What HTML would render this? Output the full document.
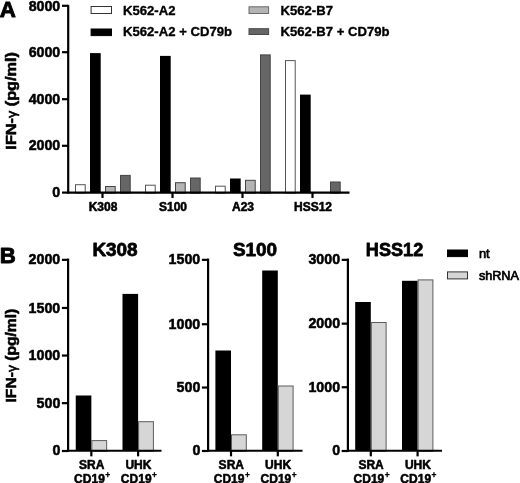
<!DOCTYPE html>
<html><head><meta charset="utf-8"><title>Figure</title>
<style>
html,body{margin:0;padding:0;background:#fff;}
body{width:520px;height:483px;overflow:hidden;}
svg{display:block;}
text{font-family:"Liberation Sans",Arial,Helvetica,sans-serif;fill:#000;}
.b{font-weight:bold;stroke:#000;stroke-width:0.55px;stroke-linejoin:round;}
</style></head><body>
<svg width="520" height="483" viewBox="0 0 520 483">
<rect width="520" height="483" fill="#fff"/>
<text class="b" transform="translate(-0.3,17.15) scale(0.975,1)" font-size="22.9" text-anchor="start" style="stroke-width:0.9px">A</text>
<text class="b" transform="translate(-0.2,262.7) scale(0.97,1)" font-size="22.9" text-anchor="start" style="stroke-width:0.9px">B</text>
<rect x="75.50" y="184.70" width="9.70" height="8.40" fill="#ffffff" stroke="#555" stroke-width="1"/>
<rect x="90.00" y="53.10" width="10.70" height="139.50" fill="#000000"/>
<rect x="105.50" y="186.50" width="9.70" height="6.60" fill="#b4b4b4" stroke="#444" stroke-width="1"/>
<rect x="120.50" y="175.40" width="9.70" height="17.70" fill="#666666" stroke="#444" stroke-width="1"/>
<rect x="145.50" y="185.20" width="9.70" height="7.90" fill="#ffffff" stroke="#555" stroke-width="1"/>
<rect x="160.00" y="55.90" width="10.70" height="136.70" fill="#000000"/>
<rect x="175.50" y="182.70" width="9.70" height="10.40" fill="#b4b4b4" stroke="#444" stroke-width="1"/>
<rect x="190.50" y="178.00" width="9.70" height="15.10" fill="#666666" stroke="#444" stroke-width="1"/>
<rect x="215.50" y="186.20" width="9.70" height="6.90" fill="#ffffff" stroke="#555" stroke-width="1"/>
<rect x="230.00" y="178.50" width="10.70" height="14.10" fill="#000000"/>
<rect x="245.50" y="180.30" width="9.70" height="12.80" fill="#b4b4b4" stroke="#444" stroke-width="1"/>
<rect x="260.50" y="54.90" width="9.70" height="138.20" fill="#666666" stroke="#444" stroke-width="1"/>
<rect x="285.50" y="60.60" width="9.70" height="132.50" fill="#ffffff" stroke="#555" stroke-width="1"/>
<rect x="300.00" y="94.60" width="10.70" height="98.00" fill="#000000"/>
<rect x="330.50" y="182.00" width="9.70" height="11.10" fill="#666666" stroke="#444" stroke-width="1"/>
<line x1="68.2" y1="4.8" x2="68.2" y2="193.6" stroke="#000" stroke-width="2.2"/>
<line x1="67.2" y1="192.6" x2="349.5" y2="192.6" stroke="#000" stroke-width="2.2"/>
<line x1="62" y1="192.6" x2="68" y2="192.6" stroke="#000" stroke-width="2.2"/>
<text class="b" transform="translate(60.3,196.95000000000002) scale(0.95,1)" font-size="15.0" text-anchor="end">0</text>
<line x1="62" y1="145.8" x2="68" y2="145.8" stroke="#000" stroke-width="2.2"/>
<text class="b" transform="translate(60.3,150.40000000000003) scale(0.95,1)" font-size="15.0" text-anchor="end">2000</text>
<line x1="62" y1="99.2" x2="68" y2="99.2" stroke="#000" stroke-width="2.2"/>
<text class="b" transform="translate(60.3,103.8) scale(0.95,1)" font-size="15.0" text-anchor="end">4000</text>
<line x1="62" y1="52.2" x2="68" y2="52.2" stroke="#000" stroke-width="2.2"/>
<text class="b" transform="translate(60.3,56.8) scale(0.95,1)" font-size="15.0" text-anchor="end">6000</text>
<line x1="62" y1="5.8" x2="68" y2="5.8" stroke="#000" stroke-width="2.2"/>
<text class="b" transform="translate(60.3,10.85) scale(0.95,1)" font-size="15.0" text-anchor="end">8000</text>
<line x1="102.5" y1="192.6" x2="102.5" y2="198" stroke="#000" stroke-width="2.2"/>
<text class="b" transform="translate(103.0,210.8) scale(0.955,1)" font-size="12.6" text-anchor="middle">K308</text>
<line x1="172.5" y1="192.6" x2="172.5" y2="198" stroke="#000" stroke-width="2.2"/>
<text class="b" transform="translate(173.0,210.8) scale(0.955,1)" font-size="12.6" text-anchor="middle">S100</text>
<line x1="242.5" y1="192.6" x2="242.5" y2="198" stroke="#000" stroke-width="2.2"/>
<text class="b" transform="translate(243.0,210.8) scale(0.955,1)" font-size="12.6" text-anchor="middle">A23</text>
<line x1="312.5" y1="192.6" x2="312.5" y2="198" stroke="#000" stroke-width="2.2"/>
<text class="b" transform="translate(313.0,210.8) scale(0.955,1)" font-size="12.6" text-anchor="middle">HSS12</text>
<text class="b" transform="translate(15.8,100.8) rotate(-90) scale(1.065,1)" font-size="15.3" text-anchor="middle">IFN-<tspan font-weight="normal" font-size="13.5">γ</tspan> (pg/ml)</text>
<text class="b" transform="translate(15.6,355.6) rotate(-90) scale(1.065,1)" font-size="14.7" text-anchor="middle">IFN-<tspan font-weight="normal" font-size="13">γ</tspan> (pg/ml)</text>
<rect x="91.1" y="6.5" width="20.4" height="7" fill="#ffffff" stroke="#333" stroke-width="1"/>
<rect x="91.1" y="29.0" width="20.4" height="6.6" fill="#000000" stroke="#000" stroke-width="1"/>
<rect x="249.0" y="6.8" width="19.6" height="6.7" fill="#b4b4b4" stroke="#6a6a6a" stroke-width="1"/>
<rect x="249.0" y="28.7" width="19.6" height="5.8" fill="#666666" stroke="#484848" stroke-width="1"/>
<text class="b" transform="translate(123.0,14.9) scale(0.98,1)" font-size="13.4" text-anchor="start" style="stroke-width:0.35px">K562-A2</text>
<text class="b" transform="translate(123.0,36.4) scale(0.98,1)" font-size="13.4" text-anchor="start" style="stroke-width:0.35px">K562-A2 + CD79b</text>
<text class="b" transform="translate(280.5,14.9) scale(0.98,1)" font-size="13.4" text-anchor="start" style="stroke-width:0.35px">K562-B7</text>
<text class="b" transform="translate(280.5,36.4) scale(0.98,1)" font-size="13.4" text-anchor="start" style="stroke-width:0.35px">K562-B7 + CD79b</text>
<rect x="75.75" y="395.50" width="15.60" height="55.25" fill="#000000"/>
<rect x="91.85" y="440.60" width="14.80" height="10.65" fill="#d6d6d6" stroke="#5c5c5c" stroke-width="1"/>
<rect x="122.50" y="293.90" width="15.60" height="156.85" fill="#000000"/>
<rect x="138.60" y="421.70" width="14.80" height="29.55" fill="#d6d6d6" stroke="#5c5c5c" stroke-width="1"/>
<line x1="68.1" y1="258.6" x2="68.1" y2="451.75" stroke="#000" stroke-width="2.2"/>
<line x1="67.1" y1="450.75" x2="161.5" y2="450.75" stroke="#000" stroke-width="2.2"/>
<line x1="61.89999999999999" y1="451.0" x2="68.1" y2="451.0" stroke="#000" stroke-width="2.2"/>
<text class="b" transform="translate(60.3,455.4) scale(0.932,1)" font-size="15.3" text-anchor="end">0</text>
<line x1="61.89999999999999" y1="403.15" x2="68.1" y2="403.15" stroke="#000" stroke-width="2.2"/>
<text class="b" transform="translate(60.3,407.75) scale(0.932,1)" font-size="15.3" text-anchor="end">500</text>
<line x1="61.89999999999999" y1="355.55" x2="68.1" y2="355.55" stroke="#000" stroke-width="2.2"/>
<text class="b" transform="translate(60.3,360.15000000000003) scale(0.932,1)" font-size="15.3" text-anchor="end">1000</text>
<line x1="61.89999999999999" y1="307.95" x2="68.1" y2="307.95" stroke="#000" stroke-width="2.2"/>
<text class="b" transform="translate(60.3,312.55) scale(0.932,1)" font-size="15.3" text-anchor="end">1500</text>
<line x1="61.89999999999999" y1="259.85" x2="68.1" y2="259.85" stroke="#000" stroke-width="2.2"/>
<text class="b" transform="translate(60.3,264.45000000000005) scale(0.932,1)" font-size="15.3" text-anchor="end">2000</text>
<line x1="91.35" y1="450.75" x2="91.35" y2="456.35" stroke="#000" stroke-width="2.2"/>
<text class="b" transform="translate(91.64999999999999,469.4) scale(0.97,1)" font-size="12.4" text-anchor="middle">SRA</text>
<text class="b" transform="translate(89.44999999999999,483.0) scale(0.97,1)" font-size="12.4" text-anchor="middle">CD19</text>
<text transform="translate(105.25,478.2)" font-size="8.4" font-weight="bold" stroke="#000" stroke-width="0.3" text-anchor="start">+</text>
<line x1="138.1" y1="450.75" x2="138.1" y2="456.35" stroke="#000" stroke-width="2.2"/>
<text class="b" transform="translate(138.4,469.4) scale(0.97,1)" font-size="12.4" text-anchor="middle">UHK</text>
<text class="b" transform="translate(136.2,483.0) scale(0.97,1)" font-size="12.4" text-anchor="middle">CD19</text>
<text transform="translate(152.0,478.2)" font-size="8.4" font-weight="bold" stroke="#000" stroke-width="0.3" text-anchor="start">+</text>
<text class="b" transform="translate(115,256.35) scale(1.03,1)" font-size="18.4" text-anchor="middle" style="stroke-width:0.75px">K308</text>
<rect x="215.40" y="350.50" width="15.60" height="100.25" fill="#000000"/>
<rect x="231.50" y="434.80" width="14.80" height="16.45" fill="#d6d6d6" stroke="#5c5c5c" stroke-width="1"/>
<rect x="262.20" y="270.50" width="15.60" height="180.25" fill="#000000"/>
<rect x="278.30" y="386.00" width="14.80" height="65.25" fill="#d6d6d6" stroke="#5c5c5c" stroke-width="1"/>
<line x1="208.1" y1="258.6" x2="208.1" y2="451.75" stroke="#000" stroke-width="2.2"/>
<line x1="207.1" y1="450.75" x2="302.5" y2="450.75" stroke="#000" stroke-width="2.2"/>
<line x1="201.9" y1="451.0" x2="208.1" y2="451.0" stroke="#000" stroke-width="2.2"/>
<text class="b" transform="translate(200.29999999999998,455.4) scale(0.932,1)" font-size="15.3" text-anchor="end">0</text>
<line x1="201.9" y1="387.55" x2="208.1" y2="387.55" stroke="#000" stroke-width="2.2"/>
<text class="b" transform="translate(200.29999999999998,392.15000000000003) scale(0.932,1)" font-size="15.3" text-anchor="end">500</text>
<line x1="201.9" y1="324.25" x2="208.1" y2="324.25" stroke="#000" stroke-width="2.2"/>
<text class="b" transform="translate(200.29999999999998,328.85) scale(0.932,1)" font-size="15.3" text-anchor="end">1000</text>
<line x1="201.9" y1="259.85" x2="208.1" y2="259.85" stroke="#000" stroke-width="2.2"/>
<text class="b" transform="translate(200.29999999999998,264.45000000000005) scale(0.932,1)" font-size="15.3" text-anchor="end">1500</text>
<line x1="231.0" y1="450.75" x2="231.0" y2="456.35" stroke="#000" stroke-width="2.2"/>
<text class="b" transform="translate(231.3,469.4) scale(0.97,1)" font-size="12.4" text-anchor="middle">SRA</text>
<text class="b" transform="translate(229.1,483.0) scale(0.97,1)" font-size="12.4" text-anchor="middle">CD19</text>
<text transform="translate(244.9,478.2)" font-size="8.4" font-weight="bold" stroke="#000" stroke-width="0.3" text-anchor="start">+</text>
<line x1="277.8" y1="450.75" x2="277.8" y2="456.35" stroke="#000" stroke-width="2.2"/>
<text class="b" transform="translate(278.1,469.4) scale(0.97,1)" font-size="12.4" text-anchor="middle">UHK</text>
<text class="b" transform="translate(275.90000000000003,483.0) scale(0.97,1)" font-size="12.4" text-anchor="middle">CD19</text>
<text transform="translate(291.7,478.2)" font-size="8.4" font-weight="bold" stroke="#000" stroke-width="0.3" text-anchor="start">+</text>
<text class="b" transform="translate(255,256.35) scale(1.03,1)" font-size="18.4" text-anchor="middle" style="stroke-width:0.75px">S100</text>
<rect x="355.20" y="302.00" width="15.60" height="148.75" fill="#000000"/>
<rect x="371.30" y="322.50" width="14.80" height="128.75" fill="#d6d6d6" stroke="#5c5c5c" stroke-width="1"/>
<rect x="402.00" y="280.80" width="15.60" height="169.95" fill="#000000"/>
<rect x="418.10" y="279.90" width="14.80" height="171.35" fill="#d6d6d6" stroke="#5c5c5c" stroke-width="1"/>
<line x1="347.9" y1="258.6" x2="347.9" y2="451.75" stroke="#000" stroke-width="2.2"/>
<line x1="346.9" y1="450.75" x2="442" y2="450.75" stroke="#000" stroke-width="2.2"/>
<line x1="341.7" y1="451.0" x2="347.9" y2="451.0" stroke="#000" stroke-width="2.2"/>
<text class="b" transform="translate(340.09999999999997,455.4) scale(0.932,1)" font-size="15.3" text-anchor="end">0</text>
<line x1="341.7" y1="387.25" x2="347.9" y2="387.25" stroke="#000" stroke-width="2.2"/>
<text class="b" transform="translate(340.09999999999997,391.85) scale(0.932,1)" font-size="15.3" text-anchor="end">1000</text>
<line x1="341.7" y1="323.65" x2="347.9" y2="323.65" stroke="#000" stroke-width="2.2"/>
<text class="b" transform="translate(340.09999999999997,328.25) scale(0.932,1)" font-size="15.3" text-anchor="end">2000</text>
<line x1="341.7" y1="259.85" x2="347.9" y2="259.85" stroke="#000" stroke-width="2.2"/>
<text class="b" transform="translate(340.09999999999997,264.45000000000005) scale(0.932,1)" font-size="15.3" text-anchor="end">3000</text>
<line x1="370.8" y1="450.75" x2="370.8" y2="456.35" stroke="#000" stroke-width="2.2"/>
<text class="b" transform="translate(371.1,469.4) scale(0.97,1)" font-size="12.4" text-anchor="middle">SRA</text>
<text class="b" transform="translate(368.90000000000003,483.0) scale(0.97,1)" font-size="12.4" text-anchor="middle">CD19</text>
<text transform="translate(384.7,478.2)" font-size="8.4" font-weight="bold" stroke="#000" stroke-width="0.3" text-anchor="start">+</text>
<line x1="417.6" y1="450.75" x2="417.6" y2="456.35" stroke="#000" stroke-width="2.2"/>
<text class="b" transform="translate(417.90000000000003,469.4) scale(0.97,1)" font-size="12.4" text-anchor="middle">UHK</text>
<text class="b" transform="translate(415.70000000000005,483.0) scale(0.97,1)" font-size="12.4" text-anchor="middle">CD19</text>
<text transform="translate(431.5,478.2)" font-size="8.4" font-weight="bold" stroke="#000" stroke-width="0.3" text-anchor="start">+</text>
<text class="b" transform="translate(394.5,256.35) scale(0.985,1)" font-size="18.4" text-anchor="middle" style="stroke-width:0.75px">HSS12</text>
<rect x="447.5" y="250.0" width="20" height="6.6" fill="#000000" stroke="#000" stroke-width="1"/>
<rect x="447.5" y="271.9" width="20" height="7" fill="#d6d6d6" stroke="#333" stroke-width="1"/>
<text transform="translate(478.9,258.1) scale(1.0,1)" font-size="12.9" text-anchor="start" stroke="#000" stroke-width="0.7">nt</text>
<text transform="translate(478.9,280.1) scale(0.98,1)" font-size="12.9" text-anchor="start" stroke="#000" stroke-width="0.7">shRNA</text>
</svg>
</body></html>
